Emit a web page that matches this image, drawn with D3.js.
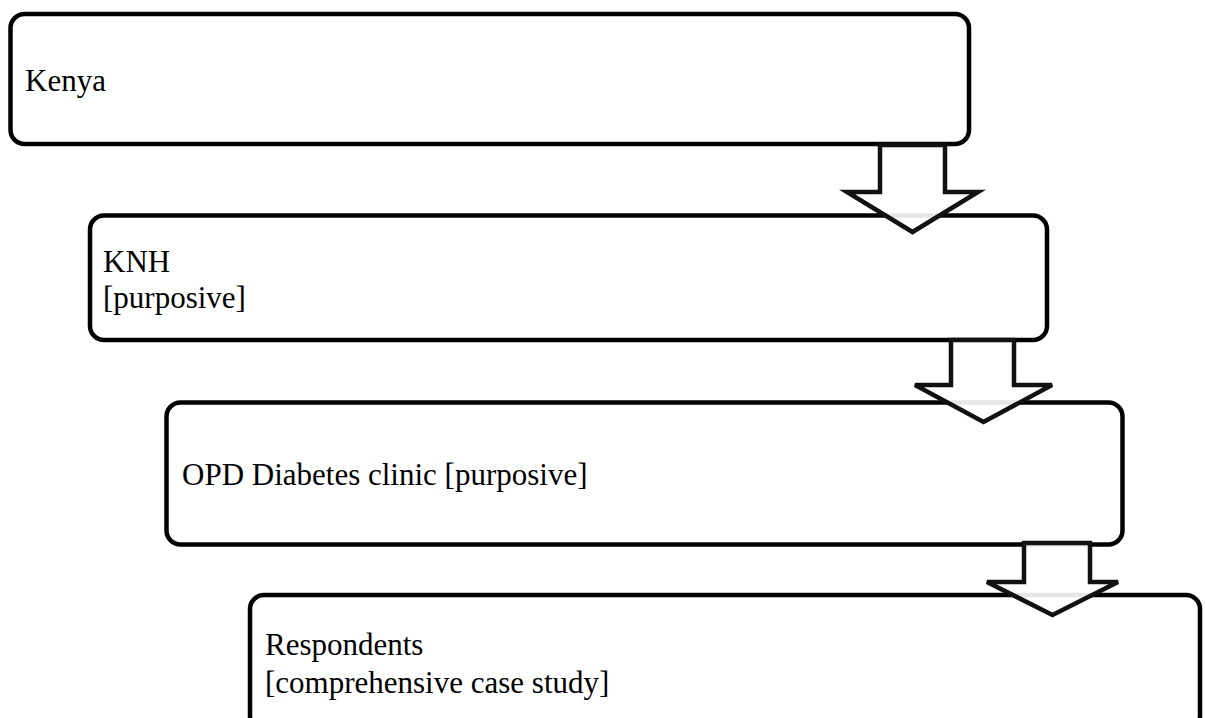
<!DOCTYPE html>
<html>
<head>
<meta charset="utf-8">
<script src="https://cdn.jsdelivr.net/npm/d3@7"></script>
<style>
html,body{margin:0;padding:0;background:#fff;overflow:hidden;}
svg{display:block;}
</style>
</head>
<body>
<svg id="chart" width="1205" height="718"></svg>
<script>
// Data: flow stages and their text lines
const stages = ["Kenya", "KNH", "OPD Diabetes clinic", "Respondents"];
const stageLines = [
  ["Kenya"],
  ["KNH", "[purposive]"],
  ["OPD Diabetes clinic [purposive]"],
  ["Respondents", "[comprehensive case study]"]
];

// Layout (positions only)
const boxes = [
  {x0: 10.5, y0: 14, x1: 969, y1: 144, tx: 25, ty: [91]},
  {x0: 90, y0: 215.5, x1: 1047, y1: 340, tx: 103, ty: [272, 308]},
  {x0: 166.5, y0: 402.5, x1: 1122.5, y1: 544.5, tx: 182, ty: [485]},
  {x0: 250, y0: 595, x1: 1200, y1: 730, tx: 265, ty: [655, 693]}
];
const arrows = [
  {s0: 880, s1: 945, top: 145, wing: 192, h0: 847, h1: 978, tip: 232},
  {s0: 951, s1: 1014, top: 340, wing: 385, h0: 915, h1: 1052, tip: 422},
  {s0: 1024, s1: 1090, top: 543, wing: 582, h0: 987, h1: 1118, tip: 615}
];

const svg = d3.select("#chart");

const g = svg.append("g");
boxes.forEach((b, i) => {
  g.append("rect")
    .attr("x", b.x0).attr("y", b.y0)
    .attr("width", b.x1 - b.x0).attr("height", b.y1 - b.y0)
    .attr("rx", 14).attr("ry", 14)
    .attr("fill", "#fff")
    .attr("stroke", "#000")
    .attr("stroke-width", 4.5);
  stageLines[i].forEach((line, j) => {
    g.append("text")
      .attr("x", b.tx).attr("y", b.ty[j])
      .attr("font-family", "'Liberation Serif', 'Times New Roman', serif")
      .attr("font-size", 31)
      .attr("fill", "#000")
      .text(line);
  });
});

const line = d3.line();
arrows.forEach(a => {
  const cx = (a.h0 + a.h1) / 2;
  const pts = [[a.s0, a.top], [a.s1, a.top], [a.s1, a.wing], [a.h1, a.wing],
               [cx, a.tip], [a.h0, a.wing], [a.s0, a.wing]];
  g.append("path")
    .attr("d", line(pts) + "Z")
    .attr("fill", "#fff")
    .attr("fill-opacity", 0.9)
    .attr("stroke", "#111")
    .attr("stroke-width", 4.5)
    .attr("stroke-linejoin", "miter");
});
</script>
</body>
</html>
